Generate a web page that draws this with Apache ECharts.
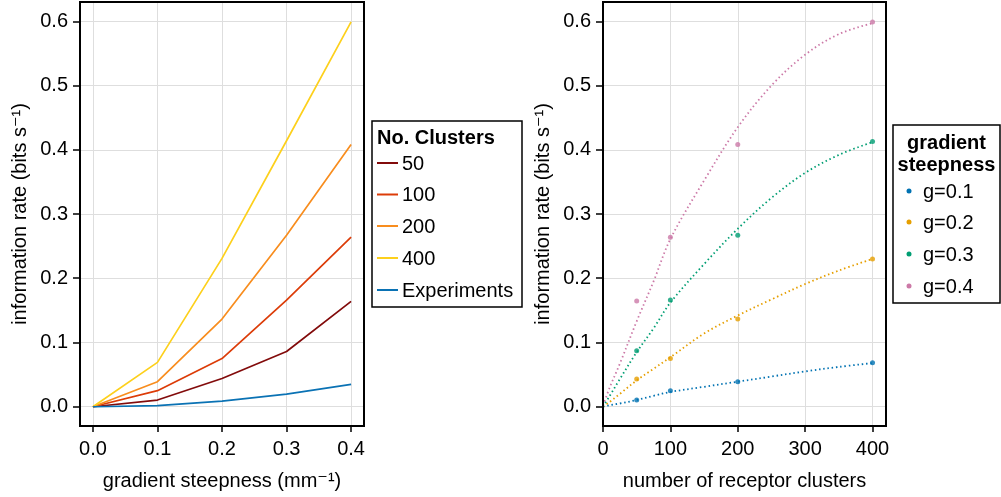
<!DOCTYPE html>
<html><head><meta charset="utf-8">
<script src="https://cdn.jsdelivr.net/npm/echarts@6/dist/echarts.min.js"></script>
<style>html,body{margin:0;padding:0;background:#fff}#c{width:1001px;height:497px}</style>
</head><body><div id="c"></div>
<script>
// ---- data ----
const steepness = [0, 0.1, 0.2, 0.3, 0.4];
const clusters50 = [0, 0.0104, 0.044, 0.086, 0.164];
const clusters100 = [0, 0.025, 0.075, 0.166, 0.264];
const clusters200 = [0, 0.039, 0.1365, 0.267, 0.408];
const clusters400 = [0, 0.069, 0.231, 0.414, 0.599];
const experiments = [0, 0.0018, 0.0088, 0.0197, 0.0348];

const clusterCounts = [50, 100, 200, 400];
const pts_g01 = [0.0104, 0.025, 0.039, 0.0685];
const pts_g02 = [0.043, 0.075, 0.1365, 0.230];
const pts_g03 = [0.087, 0.166, 0.267, 0.413];
const pts_g04 = [0.1645, 0.264, 0.408, 0.599];

const fitX = [0, 10, 25, 50, 75, 100, 150, 200, 250, 300, 350, 400];
const fit_g01 = [0, 0.0025, 0.005, 0.0105, 0.017, 0.023, 0.031, 0.039, 0.047, 0.055, 0.062, 0.068];
const fit_g02 = [0, 0.0075, 0.02, 0.041, 0.059, 0.077, 0.114, 0.142, 0.167, 0.191, 0.212, 0.23];
const fit_g03 = [0, 0.017, 0.043, 0.085, 0.122, 0.162, 0.222, 0.277, 0.325, 0.364, 0.392, 0.412];
const fit_g04 = [0.002, 0.03, 0.067, 0.133, 0.195, 0.261, 0.352, 0.435, 0.5, 0.548, 0.58, 0.597];

const yTicks = [0, 0.1, 0.2, 0.3, 0.4, 0.5, 0.6];
const xTicksLeft = [0, 0.1, 0.2, 0.3, 0.4];
const xTicksRight = [0, 100, 200, 300, 400];

const leftNames = ['50', '100', '200', '400', 'Experiments'];
const rightNames = ['g=0.1', 'g=0.2', 'g=0.3', 'g=0.4'];
// ---- style ----
const FONT = '"Liberation Sans", "DejaVu Sans", Arial, sans-serif';
const FS = 20;
const leftColors = ['#820b0b', '#dc3c08', '#f88d1e', '#fdd01c', '#0a72b4'];
const rightColors = ['#0072b2', '#e69f00', '#009e73', '#cc79a7'];

const zip = (xs, ys) => xs.map((x, i) => [x, ys[i]]);
const leftData = [clusters50, clusters100, clusters200, clusters400, experiments];
const fits = [fit_g01, fit_g02, fit_g03, fit_g04];
const pts = [pts_g01, pts_g02, pts_g03, pts_g04];

const axisText = { fontFamily: FONT, fontSize: FS, color: '#000' };
function yAxis(gridIndex) {
  return {
    type: 'value', gridIndex, min: -0.03, max: 0.63,
    axisLine: { show: false, onZero: false },
    axisTick: { show: true, inside: false, length: 7, lineStyle: { color: '#000', width: 1.5 }, customValues: yTicks },
    axisLabel: Object.assign({ margin: 12, customValues: yTicks, formatter: v => v.toFixed(1) }, axisText),
    splitLine: { show: true, lineStyle: { color: '#dedede', width: 1 } },
    name: 'information rate (bits s\u207B\u00B9)', nameLocation: 'middle', nameGap: 50,
    nameTextStyle: { fontFamily: FONT, fontSize: FS, color: '#000' }
  };
}
function xAxis(gridIndex, min, max, ticks, fmt, name) {
  return {
    type: 'value', gridIndex, min, max,
    axisLine: { show: false, onZero: false },
    axisTick: { show: true, inside: false, length: 6, lineStyle: { color: '#000', width: 1.5 }, customValues: ticks },
    axisLabel: Object.assign({ margin: 13, customValues: ticks, formatter: fmt }, axisText),
    splitLine: { show: true, lineStyle: { color: '#dedede', width: 1 } },
    name, nameLocation: 'middle', nameGap: 45,
    nameTextStyle: { fontFamily: FONT, fontSize: FS, color: '#000' }
  };
}

const series = [];
leftData.forEach((d, i) => series.push({
  type: 'line', name: leftNames[i], xAxisIndex: 0, yAxisIndex: 0,
  data: zip(steepness, d), showSymbol: false, symbol: 'none',
  lineStyle: { color: leftColors[i], width: 1.7 }
}));
fits.forEach((d, i) => series.push({
  type: 'line', name: rightNames[i] + ' fit', xAxisIndex: 1, yAxisIndex: 1,
  data: zip(fitX, d), smooth: 0.35, showSymbol: false, symbol: 'none',
  lineStyle: { color: rightColors[i], width: 1.8, type: [1.5, 2.8], cap: 'butt' }
}));
pts.forEach((d, i) => series.push({
  type: 'scatter', name: rightNames[i], xAxisIndex: 1, yAxisIndex: 1,
  data: zip(clusterCounts, d), symbol: 'circle', symbolSize: 5,
  itemStyle: { color: rightColors[i] }, z: 4
}));

// legends as graphic
const gfx = [];
const txt = (x, y, text, bold, align) => ({
  type: 'text', x, y,
  style: { text, font: (bold ? 'bold ' : '') + FS + 'px ' + FONT, fill: '#000',
    align: align || 'left', textAlign: align || 'left', verticalAlign: 'middle', textVerticalAlign: 'middle' }
});
gfx.push({ type: 'rect', shape: { x: 372, y: 121, width: 150, height: 186 }, style: { fill: '#fff', stroke: '#000', lineWidth: 1.5 } });
gfx.push(txt(377, 138, 'No. Clusters', true));
const lY = [164, 195.5, 227, 259, 291];
leftNames.forEach((n, i) => {
  gfx.push({ type: 'line', shape: { x1: 377, y1: lY[i] - 1, x2: 398, y2: lY[i] - 1 }, style: { stroke: leftColors[i], lineWidth: 2 } });
  gfx.push(txt(402, lY[i], n, false));
});
gfx.push({ type: 'rect', shape: { x: 893, y: 125, width: 107, height: 178 }, style: { fill: '#fff', stroke: '#000', lineWidth: 1.5 } });
gfx.push(txt(946.5, 143, 'gradient', true, 'center'));
gfx.push(txt(946.5, 165, 'steepness', true, 'center'));
const rY = [192, 223, 255, 287];
rightNames.forEach((n, i) => {
  gfx.push({ type: 'circle', shape: { cx: 909, cy: rY[i] - 1, r: 2.5 }, style: { fill: rightColors[i] } });
  gfx.push(txt(923, rY[i], n, false));
});

const chart = echarts.init(document.getElementById('c'), null, { renderer: 'canvas' });
chart.setOption({
  animation: false,
  backgroundColor: '#fff',
  grid: [
    { left: 80, top: 2, width: 284, height: 424, show: true, borderColor: '#000', borderWidth: 2, backgroundColor: 'transparent', z: 10 },
    { left: 603, top: 2, width: 283, height: 424, show: true, borderColor: '#000', borderWidth: 2, backgroundColor: 'transparent', z: 10 }
  ],
  xAxis: [
    xAxis(0, -0.02, 0.42, xTicksLeft, v => v.toFixed(1), 'gradient steepness (mm\u207B\u00B9)'),
    xAxis(1, 0, 420, xTicksRight, v => String(Math.round(v)), 'number of receptor clusters')
  ],
  yAxis: [yAxis(0), yAxis(1)],
  series,
  graphic: gfx
});
</script></body></html>
